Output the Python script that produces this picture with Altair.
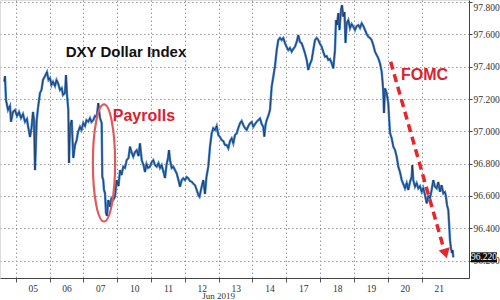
import altair as alt
import pandas as pd

# ---- data ----
day_labels = ["05", "06", "07", "10", "11", "12", "13", "14", "17", "18", "19", "20", "21"]
day_bounds = list(range(13))

pos = [-0.337, -0.316, -0.287, -0.227, -0.168, -0.139, -0.080, -0.021, 0.039, 0.098, 0.157, 0.216,
       0.275, 0.334, 0.364, 0.423, 0.467, 0.512, 0.541, 0.571, 0.621, 0.659, 0.718, 0.763, 0.807,
       0.866, 0.925, 0.970, 1.014, 1.058, 1.103, 1.162, 1.206, 1.250, 1.310, 1.360, 1.398, 1.457,
       1.487, 1.517, 1.555, 1.576, 1.605, 1.655, 1.703, 1.753, 1.803, 1.842, 1.901, 1.945, 1.998,
       2.049, 2.093, 2.146, 2.196, 2.241, 2.294, 2.344, 2.394, 2.442, 2.492, 2.542, 2.560, 2.589,
       2.610, 2.640, 2.669, 2.699, 2.737, 2.787, 2.832, 2.885, 2.935, 2.985, 3.039, 3.084, 3.128,
       3.181, 3.231, 3.281, 3.335, 3.379, 3.423, 3.476, 3.527, 3.577, 3.630, 3.674, 3.725, 3.778,
       3.822, 3.867, 3.911, 3.970, 4.020, 4.067, 4.118, 4.168, 4.221, 4.266, 4.316, 4.369, 4.413,
       4.458, 4.502, 4.532, 4.561, 4.611, 4.659, 4.709, 4.759, 4.812, 4.857, 4.907, 4.954, 5.004,
       5.055, 5.102, 5.152, 5.203, 5.256, 5.300, 5.350, 5.398, 5.433, 5.498, 5.545, 5.596, 5.640,
       5.693, 5.744, 5.794, 5.841, 5.891, 5.942, 5.989, 6.039, 6.089, 6.137, 6.187, 6.237, 6.285,
       6.336, 6.385, 6.433, 6.483, 6.533, 6.580, 6.630, 6.680, 6.728, 6.778, 6.828, 6.876, 6.926,
       6.976, 7.024, 7.074, 7.124, 7.171, 7.222, 7.272, 7.319, 7.349, 7.384, 7.420, 7.467, 7.517,
       7.567, 7.615, 7.665, 7.716, 7.763, 7.813, 7.864, 7.911, 7.961, 8.011, 8.059, 8.109, 8.159,
       8.206, 8.256, 8.306, 8.354, 8.404, 8.454, 8.501, 8.552, 8.602, 8.649, 8.700, 8.750, 8.797,
       8.848, 8.898, 8.945, 8.995, 9.045, 9.093, 9.143, 9.193, 9.240, 9.291, 9.341, 9.388, 9.438,
       9.468, 9.498, 9.536, 9.572, 9.616, 9.646, 9.684, 9.720, 9.749, 9.784, 9.832, 9.882, 9.932,
       9.980, 10.030, 10.080, 10.128, 10.178, 10.228, 10.276, 10.326, 10.376, 10.423, 10.473,
       10.523, 10.571, 10.621, 10.671, 10.719, 10.769, 10.819, 10.849, 10.866, 10.887, 10.917,
       10.967, 11.014, 11.041, 11.065, 11.115, 11.163, 11.213, 11.263, 11.310, 11.360, 11.411,
       11.458, 11.508, 11.558, 11.605, 11.656, 11.706, 11.724, 11.753, 11.803, 11.853, 11.901,
       11.951, 12.001, 12.048, 12.099, 12.149, 12.196, 12.246, 12.296, 12.344, 12.394, 12.444,
       12.492, 12.542, 12.592, 12.640, 12.690, 12.720, 12.749, 12.788, 12.817, 12.838, 12.867,
       12.897, 12.918, 12.935]

price = [97.307, 97.342, 97.194, 97.132, 97.157, 97.059, 97.120, 97.132, 97.095, 97.120, 97.082, 97.107,
         97.058, 97.076, 97.033, 96.965, 97.020, 97.120, 97.070, 96.760, 97.070, 97.144, 97.237, 97.256,
         97.318, 97.342, 97.367, 97.318, 97.330, 97.287, 97.307, 97.281, 97.318, 97.299, 97.256, 97.268,
         97.225, 97.237, 97.349, 97.225, 97.132, 96.804, 97.028, 97.070, 96.835, 96.915, 96.946, 96.996,
         97.028, 97.008, 97.051, 97.033, 97.070, 97.059, 97.082, 97.058, 97.070, 97.095, 97.090, 97.175,
         97.082, 97.051, 96.719, 96.698, 96.637, 96.618, 96.494, 96.476, 96.575, 96.533, 96.587, 96.575,
         96.595, 96.698, 96.661, 96.760, 96.729, 96.781, 96.773, 96.822, 96.835, 96.905, 96.872, 96.843,
         96.872, 96.884, 96.847, 96.926, 96.822, 96.791, 96.748, 96.798, 96.773, 96.781, 96.810, 96.822,
         96.791, 96.781, 96.804, 96.773, 96.791, 96.748, 96.711, 96.791, 96.835, 96.884, 96.822, 96.773,
         96.781, 96.760, 96.740, 96.698, 96.657, 96.698, 96.709, 96.698, 96.717, 96.709, 96.692, 96.688,
         96.674, 96.667, 96.637, 96.606, 96.595, 96.657, 96.698, 96.612, 96.719, 96.781, 96.905, 96.988,
         97.020, 97.008, 97.033, 96.977, 96.965, 96.946, 96.940, 96.915, 96.915, 96.895, 96.940, 96.957,
         96.926, 96.977, 96.988, 97.020, 97.049, 97.064, 97.039, 97.020, 97.008, 97.033, 97.049, 97.058,
         97.028, 97.045, 97.059, 97.070, 97.080, 97.045, 97.028, 96.967, 97.039, 97.070, 97.095, 97.132,
         97.276, 97.338, 97.404, 97.503, 97.565, 97.578, 97.565, 97.578, 97.545, 97.522, 97.503, 97.516,
         97.493, 97.510, 97.524, 97.553, 97.596, 97.553, 97.545, 97.516, 97.483, 97.442, 97.380, 97.417,
         97.442, 97.503, 97.565, 97.578, 97.565, 97.541, 97.524, 97.491, 97.462, 97.466, 97.442, 97.448,
         97.421, 97.390, 97.503, 97.689, 97.658, 97.731, 97.627, 97.751, 97.782, 97.710, 97.739, 97.547,
         97.669, 97.689, 97.638, 97.664, 97.648, 97.627, 97.652, 97.658, 97.640, 97.669, 97.652, 97.627,
         97.602, 97.586, 97.578, 97.565, 97.534, 97.493, 97.472, 97.452, 97.421, 97.369, 97.297, 97.245,
         97.113, 97.266, 97.235, 97.173, 97.070, 96.990, 96.957, 96.905, 96.884, 96.843, 96.781, 96.748,
         96.698, 96.674, 96.647, 96.680, 96.637, 96.686, 96.719, 96.791, 96.698, 96.657, 96.680, 96.647,
         96.661, 96.626, 96.649, 96.606, 96.554, 96.599, 96.585, 96.637, 96.698, 96.657, 96.647, 96.686,
         96.626, 96.667, 96.616, 96.624, 96.595, 96.544, 96.513, 96.409, 96.327, 96.276, 96.246, 96.265,
         96.220]

y_ticks = [96.2, 96.4, 96.6, 96.8, 97.0, 97.2, 97.4, 97.6, 97.8]
last_value = [96.22]

# annotations
ann_text = ["DXY Dollar Index", "Payrolls", "FOMC"]
ann_pos = [3.26, 3.79, 12.085]
ann_val = [97.491, 97.095, 97.349]
ann_color = ["#111111", "#d8232f", "#d8232f"]
ann_size = [15, 16, 16]

ellipse_pos = [2.610]
ellipse_val = [96.804]

arrow_pos = [11.085, 12.631]
arrow_val = [97.431, 96.290]
arrowhead_pos = [12.705]
arrowhead_val = [96.243]

X_DOMAIN = [-0.464, 13.40]
Y_DOMAIN = [96.092, 97.813]

df = pd.DataFrame({"pos": pos, "price": price})
ann_df = pd.DataFrame({"text": ann_text, "pos": ann_pos, "val": ann_val,
                       "color": ann_color, "size": ann_size})

xs = alt.Scale(domain=X_DOMAIN, nice=False, zero=False)
ys = alt.Scale(domain=Y_DOMAIN, nice=False, zero=False)

label_arr = "[" + ",".join("'" + d + "'" for d in day_labels) + "]"

x_axis = alt.Axis(
    values=day_bounds, tickCount=40, labelExpr=label_arr + "[datum.value]", labelOverlap=False,
    labelOffset=17, grid=True, gridDash=[1.5, 2.5], gridColor="#9a9a9a",
    tickSize=4, tickColor="#555", domainColor="#444", labelFont="Liberation Serif",
    labelFontSize=9.5, labelColor="#333", labelPadding=1,
    title="Jun 2019", titleFont="Liberation Serif", titleFontSize=9,
    titleFontWeight="normal", titleColor="#333", titleX=218, titleY=17.5,
    titleAnchor="middle", titleAlign="center", titleBaseline="middle",
)
y_axis = alt.Axis(
    orient="right", values=y_ticks, tickCount=40, format=".3f", grid=True, gridDash=[1.5, 2.5],
    labelOverlap=False, labelFlush=5,
    gridColor="#9a9a9a", tickSize=3, tickColor="#444", domainColor="#444",
    labelFont="Liberation Serif", labelFontSize=9.5, labelColor="#333", labelPadding=1,
    title=None,
)

X = lambda f: alt.X(f, scale=xs)
Y = lambda f: alt.Y(f, scale=ys)

base_line = alt.Chart(df).mark_line(color="#3b7fd0", strokeWidth=2.4).encode(
    x=alt.X("pos:Q", scale=xs, axis=x_axis),
    y=alt.Y("price:Q", scale=ys, axis=y_axis),
)
dark_line = alt.Chart(df).mark_line(color="#1b2235", strokeWidth=1.0, opacity=0.65).encode(
    x=X("pos:Q"), y=Y("price:Q"),
)

ann = alt.Chart(ann_df).mark_text(fontWeight="bold", font="Liberation Sans").encode(
    x=X("pos:Q"), y=Y("val:Q"),
    text="text:N", color=alt.Color("color:N", scale=None),
    size=alt.Size("size:Q", scale=None),
)

ellipse = alt.Chart(pd.DataFrame({"pos": ellipse_pos, "val": ellipse_val})).mark_point(
    shape="M0,-1A0.19,1,0,1,1,0,1A0.19,1,0,1,1,0,-1Z", size=13700, filled=False,
    stroke="#e05a5a", strokeWidth=2.2, opacity=1,
).encode(x=X("pos:Q"), y=Y("val:Q"))

arrow = alt.Chart(pd.DataFrame({"pos": arrow_pos, "val": arrow_val})).mark_line(
    color="#e8252b", strokeWidth=3.5, strokeDash=[8, 5],
).encode(x=X("pos:Q"), y=Y("val:Q"))

arrowhead = alt.Chart(pd.DataFrame({"pos": arrowhead_pos, "val": arrowhead_val})).mark_point(
    shape="triangle-down", size=130, filled=True, color="#e8252b", opacity=1, angle=344,
).encode(x=X("pos:Q"), y=Y("val:Q"))

lv_df = pd.DataFrame({"val": last_value, "label": ["{:.3f}".format(v) for v in last_value]})
lv_box = alt.Chart(lv_df).mark_rect(color="#111111", yOffset=-5, y2Offset=5).encode(
    y=Y("val:Q"), y2="val:Q", x=alt.value(471), x2=alt.value(497),
)
lv_text = alt.Chart(lv_df).mark_text(color="white", font="Liberation Serif", fontSize=9.5,
                                     align="center", baseline="middle").encode(
    y=Y("val:Q"), x=alt.value(484), text="label:N",
)

chart = alt.layer(base_line, dark_line, ellipse, arrow, arrowhead, ann, lv_box, lv_text).properties(
    width=469, height=278, autosize=alt.AutoSizeParams(type="none"),
    padding={"left": 0, "top": 0, "right": 31, "bottom": 22},
).configure_view(stroke=None).configure(background="white").configure_axis(labelOverlap=False)

chart.save("out.html", embed_options={"renderer": "svg", "actions": False})
